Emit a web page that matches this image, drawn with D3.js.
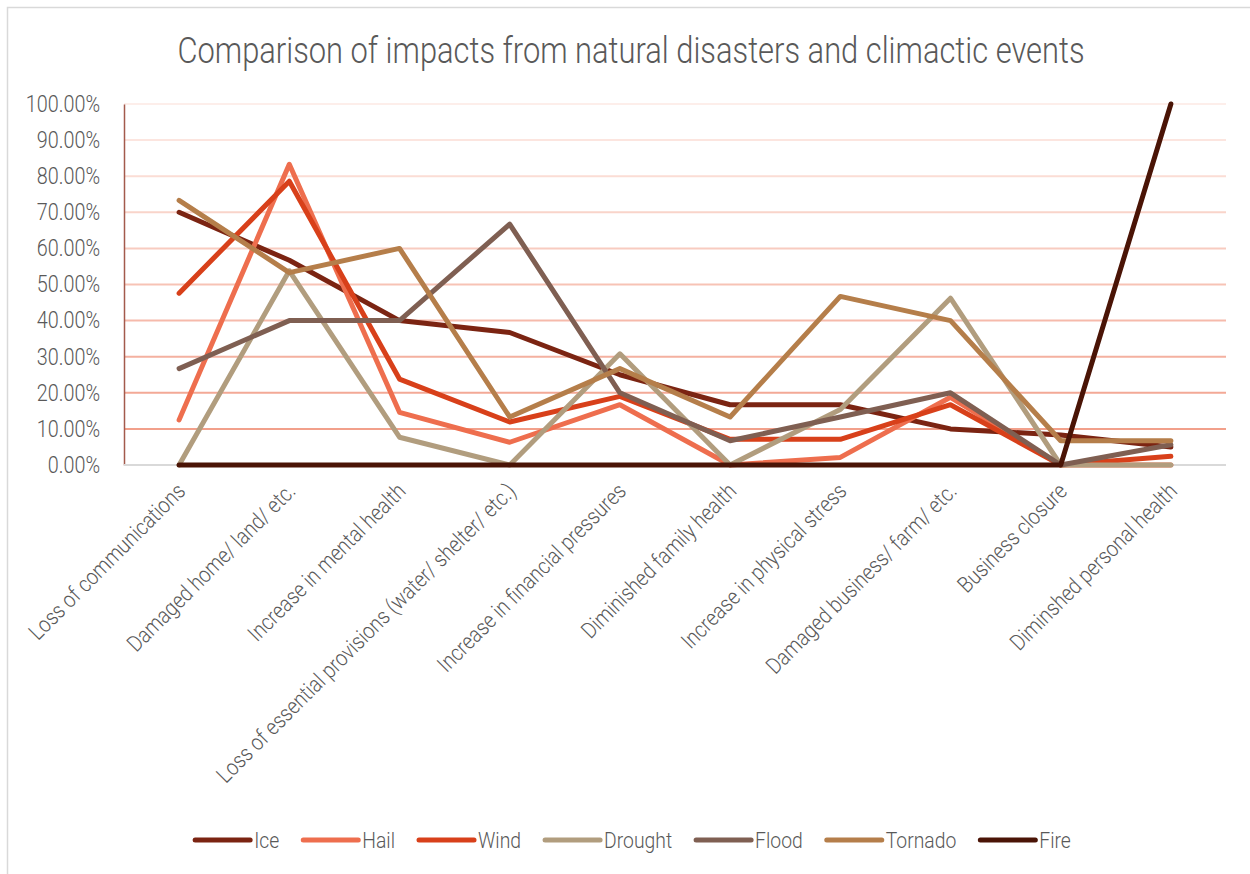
<!DOCTYPE html>
<html>
<head>
<meta charset="utf-8">
<script src="https://cdn.jsdelivr.net/npm/d3@7"></script>
<style>
  body { margin: 0; background: #fff; }
  svg { display: block; }
  text { font-family: Roboto, "Noto Sans", sans-serif; fill: #595959; font-weight: 300; }
</style>
</head>
<body>
<svg id="chart" width="1250" height="874"></svg>
<script>
const categories = [
  "Loss of communications",
  "Damaged home/ land/ etc.",
  "Increase in mental health",
  "Loss of essential provisions (water/ shelter/ etc.)",
  "Increase in financial pressures",
  "Diminished family health",
  "Increase in physical stress",
  "Damaged business/ farm/ etc.",
  "Business closure",
  "Diminshed personal health"
];
const seriesNames = ["Ice", "Hail", "Wind", "Drought", "Flood", "Tornado", "Fire"];
const ice     = [70, 56.7, 40, 36.7, 25, 16.7, 16.7, 10, 8.3, 5];
const hail    = [12.5, 83.3, 14.6, 6.3, 16.7, 0, 2.1, 18.75, 0, 0];
const wind    = [47.6, 78.6, 23.8, 11.9, 19, 7.1, 7.1, 16.7, 0, 2.4];
const drought = [0, 53.8, 7.7, 0, 30.8, 0, 15.4, 46.2, 0, 0];
const flood   = [26.7, 40, 40, 66.7, 20, 6.7, 13.3, 20, 0, 5.6];
const tornado = [73.3, 53.3, 60, 13.3, 26.7, 13.3, 46.7, 40, 6.7, 6.7];
const fire    = [0, 0, 0, 0, 0, 0, 0, 0, 0, 100];
const yTicks  = [0, 10, 20, 30, 40, 50, 60, 70, 80, 90, 100];
const title = "Comparison of impacts from natural disasters and climactic events";

const seriesValues = [ice, hail, wind, drought, flood, tornado, fire];
const colors = ["#7b2412", "#ee6e4e", "#d8401a", "#b19d7e", "#7f5f52", "#b57e4a", "#4a1406"];

const svg = d3.select("#chart");
const W = 1250, H = 874;
const plot = { left: 124, right: 1226, top: 104, bottom: 465 };
const condense = 0.86;

// outer border
svg.append("rect").attr("x", 7.5).attr("y", 7.5).attr("width", W).attr("height", H)
  .attr("fill", "none").attr("stroke", "#d9d9d9").attr("stroke-width", 1.5);

const x = d3.scalePoint().domain(categories).range([plot.left, plot.right]).padding(0.5);
const y = d3.scaleLinear().domain([0, 100]).range([plot.bottom, plot.top]);

// title
svg.append("text")
  .attr("transform", `translate(631,63) scale(${condense * 0.97},1)`)
  .attr("text-anchor", "middle")
  .style("font-size", "37px")
  .text(title);

// gridlines
const gridColor = d3.interpolateRgb("#f2a08b", "#fdeeea");
svg.append("g").selectAll("line").data(yTicks.filter(d => d > 0)).join("line")
  .attr("x1", plot.left).attr("x2", plot.right)
  .attr("y1", d => y(d)).attr("y2", d => y(d))
  .attr("stroke", d => gridColor((d - 10) / 90))
  .attr("stroke-width", 2);

// y axis
const yAxis = svg.append("g").attr("transform", `translate(${plot.left},0)`)
  .call(d3.axisLeft(y).tickValues(yTicks).tickSize(0).tickPadding(24)
    .tickFormat(d => d3.format(".2f")(d) + "%"));
yAxis.select(".domain").attr("stroke", "#a35a4c").attr("stroke-width", 1.5);
yAxis.selectAll(".tick text")
  .attr("x", null)
  .attr("transform", `translate(-24,0) scale(${condense},1)`)
  .style("font-size", "23px").style("font-family", "Roboto").style("font-weight", 300)
  .attr("fill", "#595959");

// x axis baseline
svg.append("line").attr("x1", plot.left).attr("x2", plot.right)
  .attr("y1", plot.bottom).attr("y2", plot.bottom)
  .attr("stroke", "#d9d9d9").attr("stroke-width", 2);

// x labels
svg.append("g").selectAll("text").data(categories).join("text")
  .attr("transform", d => `translate(${x(d) + 2},${plot.bottom + 22}) rotate(-45) scale(${condense},1)`)
  .attr("text-anchor", "end").attr("dy", "0.35em")
  .style("font-size", "22.5px")
  .text(d => d);

// lines
const line = d3.line().x((d, i) => x(categories[i])).y(d => y(d));
svg.append("g").selectAll("path").data(seriesValues).join("path")
  .attr("d", d => line(d))
  .attr("fill", "none")
  .attr("stroke", (d, i) => colors[i])
  .attr("stroke-width", 5)
  .attr("stroke-linecap", "round")
  .attr("stroke-linejoin", "round");

// legend
const legendY = 840;
const legend = svg.append("g");
const items = legend.selectAll("g").data(seriesNames).join("g");
items.append("line").attr("x1", 0).attr("x2", 55).attr("y1", 0).attr("y2", 0)
  .attr("stroke", (d, i) => colors[i]).attr("stroke-width", 5).attr("stroke-linecap", "round");
items.append("text")
  .attr("transform", `translate(59,0) scale(${condense},1)`)
  .attr("dy", "0.35em").style("font-size", "22.5px")
  .text(d => d);
let widths = [];
items.each(function () {
  const t = d3.select(this).select("text").node().getComputedTextLength() * condense;
  widths.push(59 + t);
});
const gap = 24;
const total = d3.sum(widths) + gap * (widths.length - 1);
let cx = 633 - total / 2;
items.attr("transform", (d, i) => {
  const tx = cx; cx += widths[i] + gap;
  return `translate(${tx},${legendY})`;
});
</script>
</body>
</html>
